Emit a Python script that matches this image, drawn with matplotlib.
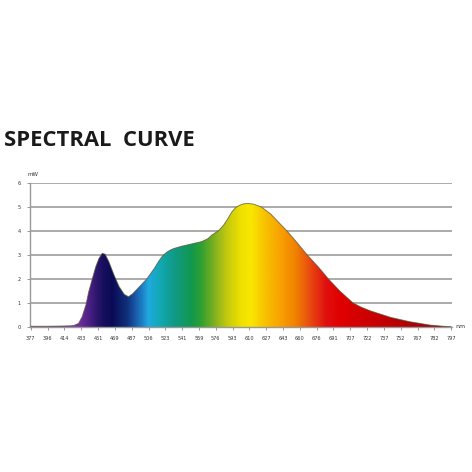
import numpy as np
import matplotlib
matplotlib.use("Agg")
import matplotlib.pyplot as plt
from matplotlib.colors import LinearSegmentedColormap, to_rgb
from matplotlib.patches import Polygon

# ---- data ----
tick_nm = [377, 396, 414, 433, 451, 469, 487, 506, 523, 541, 559, 576, 593,
           610, 627, 643, 660, 676, 691, 707, 722, 737, 752, 767, 782, 797]
wavelength_nm = [377, 395, 410, 421, 425, 430, 434, 438, 441, 445, 448.5, 452,
                 455.5, 458.5, 462.5, 468, 473.5, 479, 483.5, 488, 495, 504,
                 512, 516, 520, 524, 528, 532, 541, 550, 562, 568, 572, 579,
                 584, 588, 592, 596, 600, 604, 608, 614, 622, 631, 638, 647,
                 657.5, 667, 677.5, 686.5, 697, 709.5, 717, 725, 743, 760, 778,
                 790, 797]
power_mw = [0.03, 0.03, 0.04, 0.05, 0.07, 0.15, 0.43, 0.92, 1.47, 2.03, 2.51,
            2.86, 3.07, 3.03, 2.72, 2.17, 1.68, 1.36, 1.26, 1.38, 1.65, 2.00,
            2.45, 2.72, 2.95, 3.10, 3.20, 3.27, 3.37, 3.45, 3.56, 3.68, 3.83,
            4.02, 4.25, 4.50, 4.78, 4.97, 5.07, 5.13, 5.15, 5.12, 5.00, 4.72,
            4.40, 4.00, 3.50, 3.00, 2.50, 2.00, 1.50, 1.00, 0.82, 0.67, 0.40,
            0.22, 0.08, 0.03, 0.01]
color_nm = [377, 424, 432, 454, 465, 481, 492, 505, 518, 531, 550, 561, 574,
            586, 601, 611, 626, 641, 656, 670, 684, 697, 719, 797]
color_hex = ["#8a4ab0", "#7a3aa0", "#6a2a9a", "#1a1060", "#0a0a55", "#10307a",
             "#1a60b0", "#20a8e0", "#10a8b0", "#109a88", "#109850", "#30a030",
             "#80b020", "#c0c810", "#f0e000", "#f8e800", "#f8c000", "#f8a000",
             "#f08000", "#e84810", "#e01010", "#e00000", "#d00000", "#900010"]
y_ticks = [0, 1, 2, 3, 4, 5, 6]

tick_pos = np.arange(len(tick_nm))
def to_pos(nm):
    return np.interp(nm, tick_nm, tick_pos)

fig = plt.figure(figsize=(4.72, 4.72), dpi=100)
fig.patch.set_facecolor("white")
ax = fig.add_axes([30/472, 1-327/472, 422/472, 144/472])

xs = to_pos(np.array(wavelength_nm, float))
ys = np.array(power_mw, float)
xmin, xmax = -0.05, 25.05

# gradient image clipped to the area under the curve
cpos = (to_pos(np.array(color_nm, float)) - tick_pos[0]) / (tick_pos[-1] - tick_pos[0])
cmap = LinearSegmentedColormap.from_list("spec", list(zip(cpos, [to_rgb(c) for c in color_hex])))
grad = np.linspace(0, 1, 800)[None, :]
im = ax.imshow(grad, aspect="auto", cmap=cmap, extent=[tick_pos[0], tick_pos[-1], 0, 6],
               origin="lower", zorder=2, interpolation="bilinear")
poly = Polygon(np.column_stack([np.r_[xs[0], xs, xs[-1]], np.r_[0, ys, 0]]),
               closed=True, facecolor="none", edgecolor="none", transform=ax.transData)
ax.add_patch(poly)
im.set_clip_path(poly)
ax.plot(xs, ys, color="#5a5030", lw=0.7, zorder=3, alpha=0.7,
        solid_joinstyle="round")

ax.set_xlim(xmin, xmax)
ax.set_ylim(0, 6)
for yv in y_ticks[1:]:
    ax.axhline(yv, color="#ababab", lw=1.4, zorder=1)
ax.set_yticks(y_ticks)
ax.set_yticklabels([str(v) for v in y_ticks])
ax.set_xticks(tick_pos)
ax.set_xticklabels([str(v) for v in tick_nm])
ax.tick_params(axis="both", labelsize=3.6, colors="#888888", labelcolor="#333333",
               length=2.5, width=0.6, pad=4)
for s in ["top", "right"]:
    ax.spines[s].set_visible(False)
for s in ["left", "bottom"]:
    ax.spines[s].set_color("#999999")
    ax.spines[s].set_linewidth(1.0)

fig.text(28/472, 1-175/472, "mW", fontsize=4, color="#333333", ha="left", va="center")
fig.text(455/472, 1-327/472, "nm", fontsize=4.5, color="#333333", ha="left", va="center")
fig.text(4/472, 1-140/472, "SPECTRAL  CURVE", fontsize=15.8, fontweight="bold",
         family="Open Sans", color="#1a1a1a", ha="left", va="center")

fig.savefig("out.png", dpi=100, facecolor="white")
